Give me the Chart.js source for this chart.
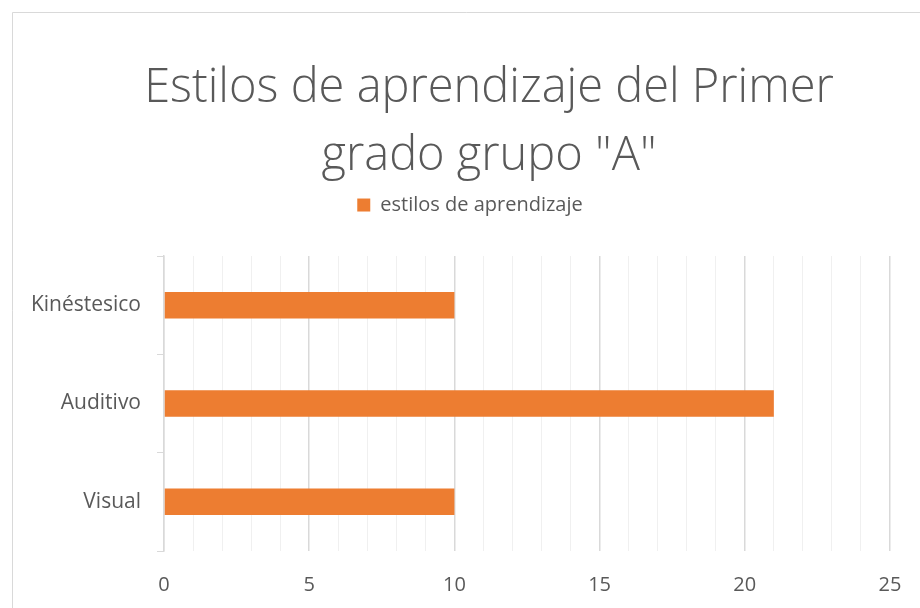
<!DOCTYPE html>
<html>
<head>
<meta charset="utf-8">
<script src="https://cdn.jsdelivr.net/npm/chart.js@4/dist/chart.umd.min.js"></script>
<style>
html,body{margin:0;padding:0;background:#fff;overflow:hidden;}
canvas{display:block;}
</style>
</head>
<body>
<canvas id="c" width="920" height="608"></canvas>
<script>
const categories = ['Kinéstesico', 'Auditivo', 'Visual'];
const seriesName = 'estilos de aprendizaje';
const values = [10, 21, 10];
const titleLines = ['Estilos de aprendizaje del Primer', 'grado grupo "A"'];
const xMin = 0, xMax = 25, majorStep = 5, minorStep = 1;

const textColor = '#595959';
const barColor = '#ED7D31';
const fontFamily = '"Open Sans", "Liberation Sans", sans-serif';

const framePlugin = {
  id: 'frame',
  beforeDraw(chart) {
    const ctx = chart.ctx;
    ctx.save();
    ctx.fillStyle = '#fff';
    ctx.fillRect(0, 0, chart.width, chart.height);
    ctx.strokeStyle = '#d9d9d9';
    ctx.lineWidth = 1;
    ctx.beginPath();
    ctx.moveTo(12.5, chart.height);
    ctx.lineTo(12.5, 12.5);
    ctx.lineTo(chart.width, 12.5);
    ctx.stroke();
    ctx.restore();
  }
};

// the original chart is wider than the visible crop: centre title/legend on the full chart width
const blockCentering = {
  id: 'blockCentering',
  beforeInit(chart) {
    const orig = chart.legend.fit;
    chart.legend.fit = function () {
      orig.bind(chart.legend)();
      this.height += 31;
    };
  },
  afterLayout(chart) {
    if (chart.titleBlock) {
      chart.titleBlock.left = 0;
      chart.titleBlock.right = 978;
    }
    if (chart.legend) {
      chart.legend.left = 0;
      chart.legend.right = 940;
    }
  }
};

new Chart(document.getElementById('c'), {
  type: 'bar',
  data: {
    labels: categories,
    datasets: [{
      label: seriesName,
      data: values,
      backgroundColor: barColor,
      borderWidth: 0,
      barPercentage: 0.9,
      categoryPercentage: 0.3
    }]
  },
  options: {
    indexAxis: 'y',
    responsive: false,
    animation: false,
    layout: { padding: { left: 0, right: 30, top: 0, bottom: 0 } },
    plugins: {
      title: {
        display: true,
        text: titleLines,
        color: textColor,
        font: { family: fontFamily, size: 47, weight: 300, lineHeight: 1.447 },
        padding: { top: 55, bottom: 0 }
      },
      legend: {
        display: true,
        position: 'top',
        labels: {
          color: textColor,
          font: { family: fontFamily, size: 20 },
          boxWidth: 13,
          boxHeight: 13,
          padding: 4
        }
      },
      tooltip: { enabled: false }
    },
    scales: {
      x: {
        type: 'linear',
        min: xMin,
        max: xMax,
        ticks: {
          stepSize: minorStep,
          autoSkip: false,
          maxRotation: 0,
          color: textColor,
          font: { family: fontFamily, size: 20 },
          padding: 22,
          callback: (v) => (v % majorStep === 0 ? String(v) : '')
        },
        grid: {
          drawTicks: false,
          color: (c) => (c.tick && c.tick.value % majorStep === 0 ? '#d9d9d9' : '#f0f0f0'),
          lineWidth: (c) => (c.tick && c.tick.value % majorStep === 0 ? 1.5 : 1)
        },
        border: { display: false },
        afterFit(scale) { scale.height = 57; scale.paddingLeft = 0; scale.paddingRight = 0; }
      },
      y: {
        ticks: {
          color: textColor,
          font: { family: fontFamily, size: 21 },
          padding: 16
        },
        grid: {
          offset: true,
          drawOnChartArea: false,
          drawTicks: true,
          tickLength: 7,
          color: '#d9d9d9'
        },
        border: { display: true, color: '#d9d9d9', width: 1.5 },
        afterFit(scale) { scale.width = 164; }
      }
    }
  },
  plugins: [framePlugin, blockCentering]
});
</script>
</body>
</html>
